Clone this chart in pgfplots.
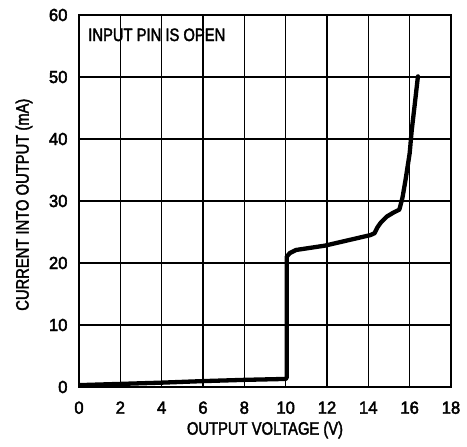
\documentclass[border=0pt]{standalone}
\usepackage{fontspec}
\setmainfont{Liberation Sans}[FakeStretch=0.82,FakeBold=2]
\newfontfamily\tickfont{Liberation Sans}[FakeStretch=0.95,FakeBold=2.5]
\usepackage{pgfplots}
\pgfplotsset{compat=1.18}
\begin{document}
\begin{tikzpicture}
\path[use as bounding box] (-79pt,-60pt) rectangle (388pt,387pt);
\begin{axis}[
  at={(0pt,0pt)}, anchor=south west,
  scale only axis=true,
  width=372pt, height=372pt,
  xmin=0, xmax=18, ymin=0, ymax=60,
  xtick={0,2,...,18}, ytick={0,10,...,60},
  grid=major,
  major grid style={black, line width=1.6pt},
  axis line style={black, line width=1.8pt},
  major tick length=0pt,
  tick label style={font=\tickfont\fontsize{17.5}{20}\selectfont},
  label style={font=\fontsize{18}{20}\selectfont},
  /pgf/number format/assume math mode=true,
  xlabel={OUTPUT VOLTAGE (V)},
  ylabel={CURRENT INTO OUTPUT (mA)},
  xlabel style={at={(axis description cs:0.5,-0.1156)}, anchor=center},
  ylabel style={at={(axis description cs:-0.148,0.49)}, anchor=center},
  xticklabel style={yshift=-11pt},
  yticklabel style={xshift=-8pt},
]
\addplot[black, line width=4.3pt, line join=round, line cap=round] coordinates {
(0,0.3) (2,0.5) (4,0.7) (6,0.95) (8,1.15) (10,1.3) (10.05,1.5) (10.05,21.0)
(10.2,21.6) (10.5,22.1) (11.9,22.8) (14.1,24.5) (14.3,24.8) (14.45,25.8)
(14.6,26.5) (14.9,27.5) (15.2,28.1) (15.5,28.6) (15.65,30.5) (15.8,33.4)
(16.0,37.7) (16.1,41.4) (16.25,45.7) (16.4,50.1)
};
\node[anchor=west, font=\fontsize{18}{20}\selectfont] at (axis cs:0.28,56.8) {INPUT PIN IS OPEN};
\end{axis}
\end{tikzpicture}
\end{document}
